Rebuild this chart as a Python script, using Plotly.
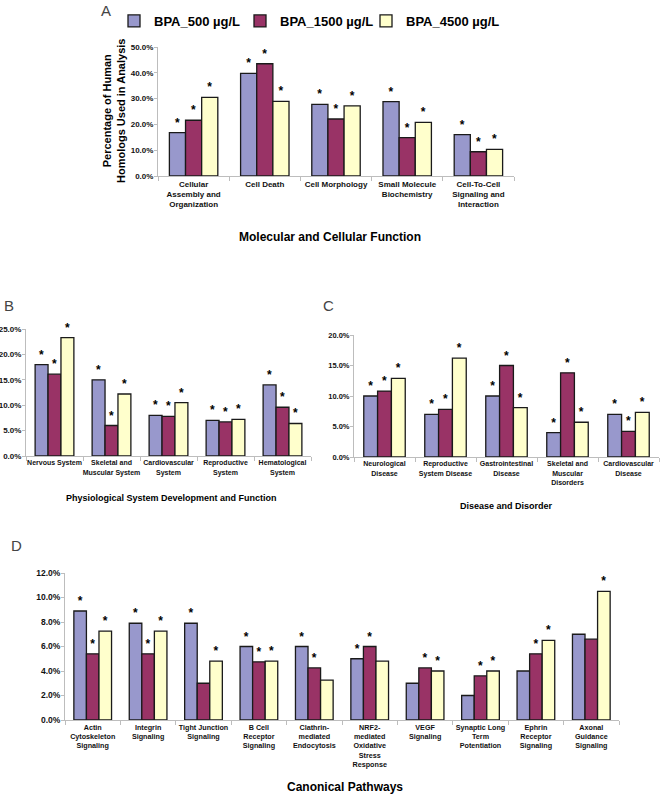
import plotly.graph_objects as go

W, H = 662, 796

series_names = ["BPA_500 µg/L", "BPA_1500 µg/L", "BPA_4500 µg/L"]
series_colors = ["#9898CC", "#993366", "#FFFFCC"]

# Panel A - Molecular and Cellular Function
a_cats = ["Cellular<br>Assembly and<br>Organization", "Cell Death", "Cell Morphology",
          "Small Molecule<br>Biochemistry", "Cell-To-Cell<br>Signaling and<br>Interaction"]
a_500 = [16.8, 39.8, 27.8, 28.8, 16.0]
a_1500 = [21.6, 43.5, 22.1, 14.9, 9.4]
a_4500 = [30.5, 28.9, 27.2, 20.8, 10.3]
a_star_500 = [1, 1, 1, 1, 1]
a_star_1500 = [1, 1, 1, 1, 1]
a_star_4500 = [1, 1, 1, 1, 1]
a_ticks = [0, 10, 20, 30, 40, 50]

# Panel B - Physiological System Development and Function
b_cats = ["Nervous System", "Skeletal and<br>Muscular System", "Cardiovascular<br>System",
          "Reproductive<br>System", "Hematological<br>System"]
b_500 = [18.0, 15.0, 8.0, 7.0, 14.0]
b_1500 = [16.1, 6.0, 7.8, 6.7, 9.6]
b_4500 = [23.3, 12.2, 10.5, 7.2, 6.4]
b_star_500 = [1, 1, 1, 1, 1]
b_star_1500 = [1, 1, 1, 1, 1]
b_star_4500 = [1, 1, 1, 1, 1]
b_ticks = [0, 5, 10, 15, 20, 25]

# Panel C - Disease and Disorder
c_cats = ["Neurological<br>Disease", "Reproductive<br>System Disease", "Gastrointestinal<br>Disease",
          "Skeletal and<br>Muscular<br>Disorders", "Cardiovascular<br>Disease"]
c_500 = [10.0, 7.0, 10.0, 4.0, 7.0]
c_1500 = [10.8, 7.8, 15.0, 13.8, 4.2]
c_4500 = [12.9, 16.2, 8.1, 5.7, 7.3]
c_star_500 = [1, 1, 1, 1, 1]
c_star_1500 = [1, 1, 1, 1, 1]
c_star_4500 = [1, 1, 1, 1, 1]
c_ticks = [0, 5, 10, 15, 20]

# Panel D - Canonical Pathways
d_cats = ["Actin<br>Cytoskeleton<br>Signaling", "Integrin<br>Signaling", "Tight Junction<br>Signaling",
          "B Cell<br>Receptor<br>Signaling", "Clathrin-<br>mediated<br>Endocytosis",
          "NRF2-<br>mediated<br>Oxidative<br>Stress<br>Response", "VEGF<br>Signaling",
          "Synaptic Long<br>Term<br>Potentiation", "Ephrin<br>Receptor<br>Signaling",
          "Axonal<br>Guidance<br>Signaling"]
d_500 = [8.9, 7.9, 7.9, 6.0, 6.0, 5.0, 3.0, 2.0, 4.0, 7.0]
d_1500 = [5.4, 5.4, 3.0, 4.75, 4.25, 6.0, 4.25, 3.6, 5.4, 6.6]
d_4500 = [7.25, 7.25, 4.8, 4.8, 3.25, 4.8, 4.0, 4.0, 6.5, 10.5]
d_star_500 = [1, 1, 1, 1, 1, 1, 0, 0, 0, 0]
d_star_1500 = [1, 1, 0, 1, 1, 1, 1, 1, 1, 0]
d_star_4500 = [1, 1, 1, 1, 0, 0, 1, 1, 1, 1]
d_ticks = [0, 2, 4, 6, 8, 10, 12]

ARIAL = "Liberation Sans, Arial, sans-serif"


def px_x(x):
    return x / W


def px_y(y):
    return 1 - y / H


fig = go.Figure()

# (xaxis, yaxis, cats, values, stars, ticks, x-domain px, y-domain px, legend, xfont, yfont)
panels = [
    ("x", "y", a_cats, [a_500, a_1500, a_4500], [a_star_500, a_star_1500, a_star_4500], a_ticks,
     (158, 514), (176, 47), True, 8, 8),
    ("x2", "y2", b_cats, [b_500, b_1500, b_4500], [b_star_500, b_star_1500, b_star_4500], b_ticks,
     (26, 311), (456, 329), False, 7, 8),
    ("x3", "y3", c_cats, [c_500, c_1500, c_4500], [c_star_500, c_star_1500, c_star_4500], c_ticks,
     (354, 659), (457, 335), False, 7, 7.5),
    ("x4", "y4", d_cats, [d_500, d_1500, d_4500], [d_star_500, d_star_1500, d_star_4500], d_ticks,
     (65, 619), (720, 573), False, 7.2, 8.5),
]

legend_ids = ["legend", "legend2", "legend3"]

layout_axes = {}
for xa, ya, cats, vals, stars, ticks, (x0, x1), (yb, yt), showleg, xfs, yfs in panels:
    for i in range(3):
        fig.add_trace(go.Bar(
            x=cats, y=vals[i], name=series_names[i], xaxis=xa, yaxis=ya,
            marker=dict(color=series_colors[i], line=dict(color="#1a1a1a", width=1.3)),
            text=["*" if s else "" for s in stars[i]],
            textposition="outside", cliponaxis=False,
            textfont=dict(family=ARIAL, size=12, color="black", weight="bold"),
            showlegend=showleg, legend=legend_ids[i], hoverinfo="skip",
        ))
    xkey = "xaxis" + xa[1:]
    ykey = "yaxis" + ya[1:]
    layout_axes[xkey] = dict(
        domain=[px_x(x0), px_x(x1)], anchor=ya, type="category", automargin=False,
        showline=True, linecolor="#BDBDBD", linewidth=1,
        ticks="outside", tickson="boundaries", ticklen=4, tickcolor="#BDBDBD",
        tickangle=0,
        tickfont=dict(family=ARIAL, size=xfs, color="#111", weight="bold"),
        showgrid=False, zeroline=False, fixedrange=True,
    )
    layout_axes[ykey] = dict(
        domain=[px_y(yb), px_y(yt)], anchor=xa, range=[ticks[0], ticks[-1]], automargin=False,
        tickvals=ticks, ticktext=[f"{t:.1f}%" for t in ticks],
        showline=True, linecolor="#BDBDBD", linewidth=1,
        ticks="outside", ticklen=3, tickcolor="#BDBDBD", ticklabelstandoff=-1,
        tickfont=dict(family=ARIAL, size=yfs, color="#111", weight="bold"),
        showgrid=False, zeroline=False, fixedrange=True,
    )

annotations = [
    dict(text="A", x=px_x(99), y=px_y(10), xanchor="left", yanchor="middle", font=dict(family=ARIAL, size=15)),
    dict(text="B", x=px_x(2), y=px_y(305), xanchor="left", yanchor="middle", font=dict(family=ARIAL, size=15)),
    dict(text="C", x=px_x(321), y=px_y(305), xanchor="left", yanchor="middle", font=dict(family=ARIAL, size=15)),
    dict(text="D", x=px_x(9), y=px_y(545), xanchor="left", yanchor="middle", font=dict(family=ARIAL, size=15)),
    dict(text="Percentage of Human<br>Homologs Used in Analysis", x=px_x(114), y=px_y(111),
         xanchor="center", yanchor="middle", textangle=-90,
         font=dict(family=ARIAL, size=11, color="black", weight="bold")),
    dict(text="Molecular and Cellular Function", x=px_x(330), y=px_y(237), xanchor="center", yanchor="middle",
         font=dict(family=ARIAL, size=12, color="black", weight="bold")),
    dict(text="Physiological System Development and Function", x=px_x(171), y=px_y(498), xanchor="center",
         yanchor="middle", font=dict(family=ARIAL, size=9, color="black", weight="bold")),
    dict(text="Disease and Disorder", x=px_x(506), y=px_y(506), xanchor="center", yanchor="middle",
         font=dict(family=ARIAL, size=9, color="black", weight="bold")),
    dict(text="Canonical Pathways", x=px_x(345), y=px_y(787), xanchor="center", yanchor="middle",
         font=dict(family=ARIAL, size=12, color="black", weight="bold")),
]
for a in annotations:
    a.update(xref="paper", yref="paper", showarrow=False)

legend_common = dict(orientation="h", yanchor="middle", xanchor="left",
                     font=dict(family=ARIAL, size=13, color="black", weight="bold"),
                     itemclick=False, itemdoubleclick=False, bgcolor="rgba(0,0,0,0)",
                     borderwidth=0)
legend_x = [114, 240, 366]

fig.update_layout(
    template="none",
    width=W, height=H, margin=dict(l=0, r=0, t=0, b=0, autoexpand=False),
    paper_bgcolor="white", plot_bgcolor="white",
    barmode="group", bargap=0.32, bargroupgap=0,
    showlegend=True,
    legend=dict(x=px_x(legend_x[0]), y=px_y(21), **legend_common),
    legend2=dict(x=px_x(legend_x[1]), y=px_y(21), **legend_common),
    legend3=dict(x=px_x(legend_x[2]), y=px_y(21), **legend_common),
    annotations=annotations,
    **layout_axes,
)

fig.write_html("out.html", config={"displayModeBar": False, "staticPlot": True},
               post_script="document.body.style.margin='0';document.body.style.overflow='hidden';")
